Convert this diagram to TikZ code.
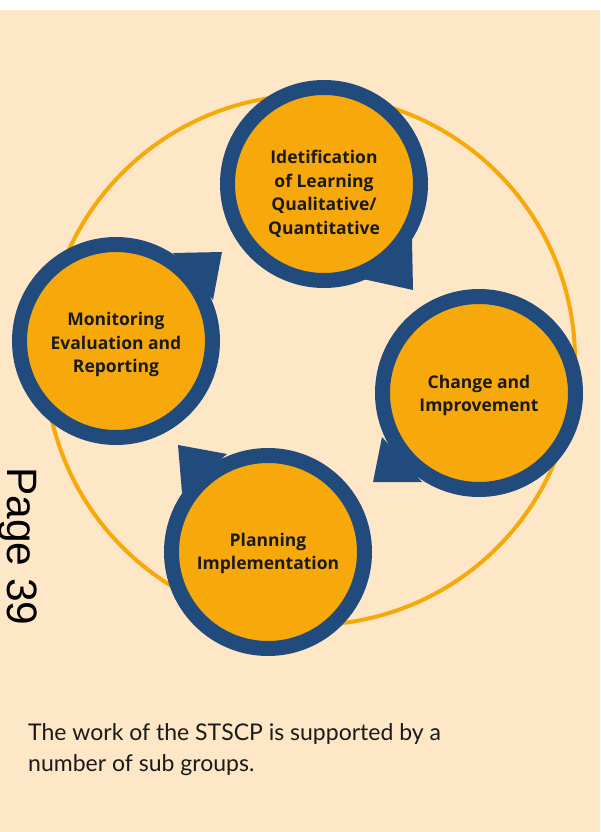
\documentclass[tikz,border=0pt]{standalone}
\usepackage{fontspec}
\setmainfont{Lato}
\newfontfamily\pagefont{Liberation Sans}
\newfontfamily\stagefont{Open Sans}
\definecolor{bg}{HTML}{FDE7C6}
\definecolor{ring}{HTML}{214A7D}
\definecolor{gold}{HTML}{F7A90B}
\definecolor{ink}{HTML}{1A1A1A}
\begin{document}
\begin{tikzpicture}[x=1pt,y=-1pt,
  stage/.style={circle, fill=gold, draw=ring, line width=15pt, minimum size=193pt,
    inner sep=0pt, align=center, text=ink,
    font=\stagefont\bfseries\fontsize{17.5}{23.5}\selectfont},
  tailshape/.style={fill=ring}]
\useasboundingbox (0,0) rectangle (600,832);
\fill[white] (0,0) rectangle (600,10);
\fill[bg] (0,10) rectangle (600,832);
\draw[gold, line width=4pt] (310,360) circle (265pt);
% tails
\fill[tailshape] (363,279) -- (413,290) -- (412,240) -- cycle;
\fill[tailshape] (173,253) -- (222,252) -- (213,300) -- cycle;
\fill[tailshape] (382,437) -- (373,482) -- (422,482) -- cycle;
\fill[tailshape] (227,454) -- (178,445) -- (182,493) -- cycle;
% stages
\node[stage] (ident) at (324,184) {\rule{0pt}{33pt}Idetification\\of Learning\\Qualitative/\\Quantitative};
\node[stage] (monitor) at (116,341) {\rule{0pt}{21pt}Monitoring\\Evaluation and\\Reporting};
\node[stage] (change) at (479,393) {\rule{0pt}{18pt}Change and\\Improvement};
\node[stage] (plan) at (268,552) {\rule{0pt}{16pt}Planning\\Implementation};
% page number
\node[rotate=-90, anchor=base west, inner sep=0pt, text=black,
  font=\pagefont\fontsize{42.5}{42.5}\selectfont] (page) at (7.6,467) {Page 39};
% caption
\node[anchor=base west, align=left, inner sep=0pt, text=ink,
  font=\fontsize{23}{31}\selectfont] (caption) at (28,771)
  {The work of the STSCP is supported by a\\number of sub groups.};
\end{tikzpicture}
\end{document}
